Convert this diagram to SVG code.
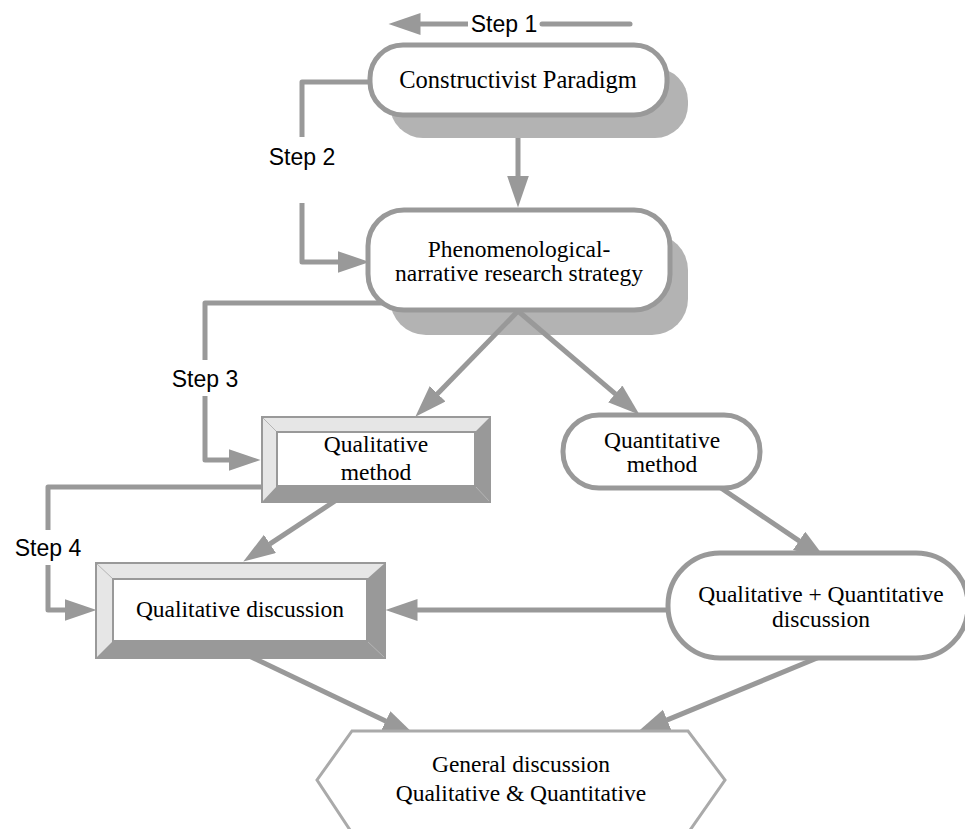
<svg xmlns="http://www.w3.org/2000/svg" width="965" height="829" viewBox="0 0 965 829">
  <style>
    .serif { font-family: "Liberation Serif", "Times New Roman", serif; font-size: 23.5px; fill: #000; text-anchor: middle; }
    .sans { font-family: "Liberation Sans", Arial, sans-serif; font-size: 23px; fill: #000; text-anchor: middle; }
    .pill { fill: #fff; stroke: #999; stroke-width: 5; }
    .shadow { fill: #b3b3b3; }
    .link { fill: none; stroke: #999; stroke-width: 5; }
    .bev-dark { fill: #999; stroke: #999; stroke-width: 2; }
    .bev-light { fill: #e6e6e6; }
    .bev-face { fill: #fff; stroke: #999; stroke-width: 2; }
    .bev-edge { stroke: #b5b5b5; stroke-width: 1; }
  </style>
  <defs>
    <marker id="arrow" markerUnits="userSpaceOnUse" markerWidth="34" markerHeight="24" refX="0.5" refY="11" orient="auto">
      <path d="M0,0 L32,11 L0,22 Z" fill="#999"/>
    </marker>
  </defs>

  <rect width="965" height="829" fill="#fff"/>

  <!-- drop shadows of the rounded boxes -->
  <g id="shadows">
    <rect class="shadow" x="390" y="68" width="298" height="70" rx="33"/>
    <rect class="shadow" x="390" y="234" width="298" height="101" rx="36"/>
  </g>

  <!-- connectors -->
  <g id="connectors">
    <!-- Step 1 -->
    <path class="link" d="M630,24 H542" stroke-linecap="round"/>
    <path class="link" d="M468,24 H420" marker-end="url(#arrow)"/>
    <text class="sans" x="504" y="32">Step 1</text>

    <!-- Constructivist -> Phenomenological -->
    <path class="link" d="M518,138 V176" marker-end="url(#arrow)"/>

    <!-- Step 2 -->
    <path class="link" d="M380,82 H302 V137" stroke-linejoin="round"/>
    <path class="link" d="M302,203 V262 H338" stroke-linejoin="round" marker-end="url(#arrow)"/>
    <text class="sans" x="302" y="165">Step 2</text>

    <!-- Step 3 -->
    <path class="link" d="M400,303 H205 V360" stroke-linejoin="round"/>
    <path class="link" d="M205,396 V460 H229" stroke-linejoin="round" marker-end="url(#arrow)"/>
    <text class="sans" x="205" y="387">Step 3</text>

    <!-- Step 4 -->
    <path class="link" d="M270,487 H48 V530" stroke-linejoin="round"/>
    <path class="link" d="M48,565 V610 H65" stroke-linejoin="round" marker-end="url(#arrow)"/>
    <text class="sans" x="48" y="556">Step 4</text>

    <!-- Phenomenological -> Qualitative method / Quantitative method -->
    <path class="link" d="M518,311 L437.3,394.1" marker-end="url(#arrow)"/>
    <path class="link" d="M518,311 L615.6,394.2" marker-end="url(#arrow)"/>

    <!-- Qualitative method -> Qualitative discussion -->
    <path class="link" d="M338,499 L269.6,544.2" marker-end="url(#arrow)"/>

    <!-- Quantitative method -> Qualitative + Quantitative discussion -->
    <path class="link" d="M715,484 L799.5,541.1" marker-end="url(#arrow)"/>

    <!-- Qualitative + Quantitative discussion -> Qualitative discussion -->
    <path class="link" d="M675,610 H417" marker-end="url(#arrow)"/>

    <!-- both discussions -> General discussion -->
    <path class="link" d="M245,654 L386.1,721.3" marker-end="url(#arrow)"/>
    <path class="link" d="M822,656 L666.7,720.1" marker-end="url(#arrow)"/>
  </g>

  <g id="constructivist">
    <rect class="pill" x="370" y="45" width="297" height="70" rx="33"/>
    <text class="serif" x="518" y="88" style="font-size:24.5px">Constructivist Paradigm</text>
  </g>

  <g id="phenomenological">
    <rect class="pill" x="368" y="210" width="302" height="100" rx="36"/>
    <text class="serif" x="519" y="257">Phenomenological-</text>
    <text class="serif" x="519" y="281">narrative research strategy</text>
  </g>

  <g id="qualitative-method">
    <rect class="bev-dark" x="262" y="417" width="228" height="85"/>
    <polygon class="bev-light" points="262,417 490,417 475,432 277,432 277,486 262,502"/>
    <line class="bev-edge" x1="490" y1="502" x2="475" y2="486"/>
    <line class="bev-edge" x1="262" y1="417" x2="277" y2="432"/>
    <rect fill="none" stroke="#999" stroke-width="2" x="262" y="417" width="228" height="85"/>
    <rect class="bev-face" x="277" y="432" width="198" height="54"/>
    <text class="serif" x="376" y="452">Qualitative</text>
    <text class="serif" x="376" y="480">method</text>
  </g>

  <g id="quantitative-method">
    <rect class="pill" x="563" y="415" width="197" height="73" rx="36"/>
    <text class="serif" x="662" y="448">Quantitative</text>
    <text class="serif" x="662" y="472">method</text>
  </g>

  <g id="qualitative-discussion">
    <rect class="bev-dark" x="96" y="563" width="289" height="95"/>
    <polygon class="bev-light" points="96,563 385,563 367,579 113,579 113,641 96,658"/>
    <line class="bev-edge" x1="385" y1="658" x2="367" y2="641"/>
    <line class="bev-edge" x1="96" y1="563" x2="113" y2="579"/>
    <rect fill="none" stroke="#999" stroke-width="2" x="96" y="563" width="289" height="95"/>
    <rect class="bev-face" x="113" y="579" width="254" height="62"/>
    <text class="serif" x="240" y="617">Qualitative discussion</text>
  </g>

  <g id="mixed-discussion">
    <rect class="pill" x="668" y="553" width="300" height="105" rx="52"/>
    <text class="serif" x="821" y="602">Qualitative + Quantitative</text>
    <text class="serif" x="821" y="627">discussion</text>
  </g>

  <g id="general-discussion">
    <polygon points="352,731 688,731 725,780 688,833 352,833 317,780" fill="#fff" stroke="#aaa" stroke-width="3"/>
    <text class="serif" x="521" y="772">General discussion</text>
    <text class="serif" x="521" y="801">Qualitative &amp; Quantitative</text>
  </g>
</svg>
